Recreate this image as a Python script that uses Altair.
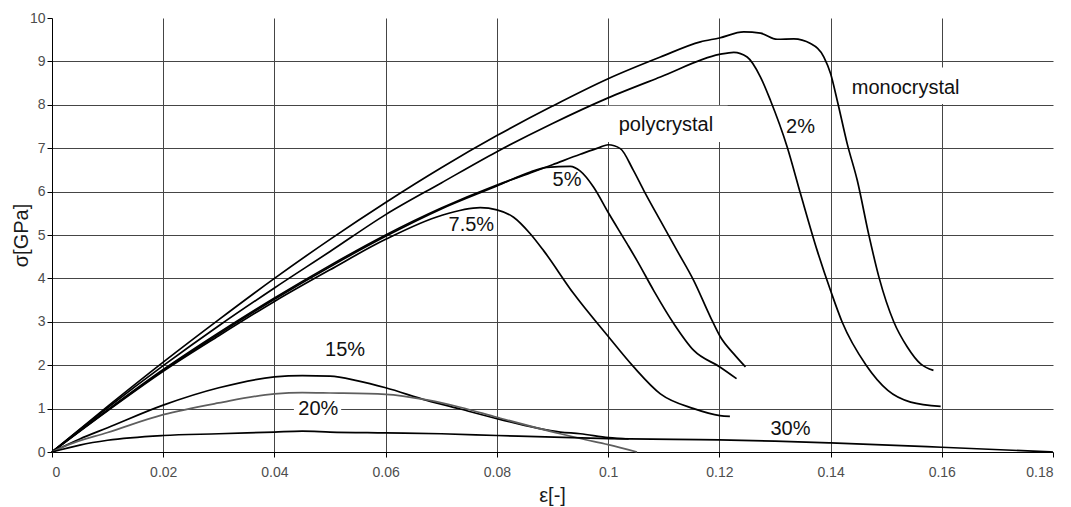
import altair as alt
import pandas as pd

# ---- data ----
mono_x = [0, 0.01, 0.02, 0.03, 0.04, 0.05, 0.06, 0.07, 0.08, 0.09, 0.1, 0.1094, 0.1166, 0.12, 0.1244, 0.1274,
          0.1304, 0.1334, 0.1364, 0.1388, 0.14, 0.1412, 0.143, 0.1448, 0.1469, 0.1487, 0.1514, 0.1538, 0.1562, 0.1585]
mono_y = [0, 1.05, 2.07, 3.05, 4.0, 4.9, 5.75, 6.55, 7.29, 7.97, 8.6, 9.1, 9.45, 9.54, 9.68, 9.65,
          9.51, 9.52, 9.41, 9.1, 8.72, 8.1, 7.1, 6.26, 4.99, 4.03, 2.99, 2.42, 2.03, 1.88]

p2_x = [0, 0.01, 0.02, 0.03, 0.04, 0.05, 0.06, 0.07, 0.08, 0.09, 0.1, 0.1094, 0.12, 0.1226, 0.125, 0.1274,
        0.1292, 0.1322, 0.1346, 0.1376, 0.14, 0.1421, 0.1464, 0.1503, 0.1544, 0.1598]
p2_y = [0, 1.02, 1.99, 2.91, 3.78, 4.62, 5.47, 6.2, 6.92, 7.57, 8.16, 8.64, 9.16, 9.21, 9.1, 8.64,
        8.1, 7.03, 5.95, 4.64, 3.72, 2.99, 2.0, 1.42, 1.15, 1.05]

poly_x = [0, 0.01, 0.02, 0.03, 0.04, 0.05, 0.06, 0.07, 0.08, 0.086, 0.09, 0.095, 0.0985, 0.1, 0.1022, 0.1045,
          0.1064, 0.1094, 0.1124, 0.1154, 0.1184, 0.1202, 0.1226, 0.1247]
poly_y = [0, 0.97, 1.9, 2.75, 3.55, 4.3, 5.0, 5.62, 6.15, 6.43, 6.62, 6.86, 7.02, 7.08, 6.99, 6.5,
          6.03, 5.33, 4.64, 3.95, 3.11, 2.65, 2.26, 1.96]

p5_x = [0, 0.01, 0.02, 0.03, 0.04, 0.05, 0.06, 0.07, 0.08, 0.086, 0.089, 0.0932, 0.095, 0.0974, 0.1001,
        0.1034, 0.1052, 0.1082, 0.1118, 0.1154, 0.1201, 0.1231]
p5_y = [0, 0.96, 1.88, 2.72, 3.52, 4.27, 4.97, 5.6, 6.13, 6.45, 6.56, 6.58, 6.47, 6.1, 5.5,
        4.8, 4.41, 3.72, 2.96, 2.34, 1.96, 1.69]

p75_x = [0, 0.01, 0.02, 0.03, 0.04, 0.05, 0.06, 0.07, 0.077, 0.08, 0.083, 0.086, 0.0884, 0.0938, 0.1001,
         0.1046, 0.1094, 0.1154, 0.1201, 0.1219]
p75_y = [0, 0.95, 1.86, 2.68, 3.47, 4.2, 4.9, 5.45, 5.63, 5.58, 5.41, 5.03, 4.64, 3.65, 2.65,
         1.96, 1.34, 1.0, 0.84, 0.82]

p15_x = [0, 0.005, 0.01, 0.02, 0.03, 0.04, 0.045, 0.05, 0.055, 0.06, 0.0674, 0.0734, 0.08, 0.0914, 0.095,
         0.1001, 0.1037]
p15_y = [0, 0.3, 0.56, 1.08, 1.48, 1.73, 1.76, 1.75, 1.64, 1.48, 1.19, 0.99, 0.77, 0.46, 0.42, 0.33, 0.3]

p20_x = [0, 0.003, 0.01, 0.02, 0.03, 0.04, 0.045, 0.05, 0.06, 0.0674, 0.0734, 0.08, 0.0914, 0.095, 0.1, 0.1052]
p20_y = [0, 0.17, 0.45, 0.86, 1.13, 1.34, 1.37, 1.36, 1.33, 1.2, 1.03, 0.8, 0.42, 0.31, 0.17, 0.0]

p30_x = [0, 0.005, 0.01, 0.02, 0.03, 0.04, 0.045, 0.05, 0.06, 0.07, 0.08, 0.1, 0.1118, 0.12, 0.13, 0.14, 0.16, 0.18]
p30_y = [0, 0.16, 0.27, 0.38, 0.42, 0.46, 0.48, 0.46, 0.44, 0.42, 0.38, 0.31, 0.29, 0.28, 0.25, 0.21, 0.11, 0.0]

series_names = ["monocrystal", "2%", "polycrystal", "5%", "7.5%", "15%", "20%", "30%"]
series_xs = [mono_x, p2_x, poly_x, p5_x, p75_x, p15_x, p20_x, p30_x]
series_ys = [mono_y, p2_y, poly_y, p5_y, p75_y, p15_y, p20_y, p30_y]
series_colors = ["#000000", "#000000", "#000000", "#000000", "#000000", "#000000", "#5e5e5e", "#000000"]

label_text = ["monocrystal", "polycrystal", "2%", "5%", "7.5%", "15%", "20%", "30%"]
label_x = [0.1535, 0.1104, 0.1346, 0.0926, 0.0754, 0.0527, 0.0479, 0.1328]
label_y = [8.39, 7.53, 7.5, 6.26, 5.24, 2.34, 0.98, 0.54]

# white boxes behind labels that interrupt the grid
box_x = [0.1415, 0.0995, 0.0435]
box_x2 = [0.1655, 0.1215, 0.0520]
box_y = [8.02, 7.14, 0.84]
box_y2 = [8.86, 7.98, 1.13]

x_ticks = [0, 0.02, 0.04, 0.06, 0.08, 0.1, 0.12, 0.14, 0.16, 0.18]
y_ticks = [0, 1, 2, 3, 4, 5, 6, 7, 8, 9, 10]

rows = []
for name, xs, ys in zip(series_names, series_xs, series_ys):
    for i, (xv, yv) in enumerate(zip(xs, ys)):
        rows.append({"series": name, "eps": xv, "sigma": yv, "idx": i})
df = pd.DataFrame(rows)
labels = pd.DataFrame({"text": label_text, "eps": label_x, "sigma": label_y})
boxes = pd.DataFrame({"x": box_x, "x2": box_x2, "y": box_y, "y2": box_y2})

FONT = "Liberation Sans"

xscale = alt.Scale(domain=[0, 0.18], nice=False, zero=False)
yscale = alt.Scale(domain=[0, 10], nice=False)

x_axis = alt.Axis(
    values=x_ticks, format="~g", title="ε[-]",
    grid=True, gridColor="#454545", gridWidth=1,
    gridOpacity={"condition": {"test": "datum.value > 0.179 || datum.value < 0.001", "value": 0}, "value": 1},
    domainColor="#000000", domainWidth=1, tickColor="#000000", tickSize=5,
    labelFont=FONT, labelFontSize=14, labelColor="#4d4d4d", labelPadding=8,
    titleFont=FONT, titleFontSize=20, titleFontWeight="normal", titleColor="#1a1a1a",
    titleX=500, titleY=43, titleBaseline="middle", titleAlign="center",
)
y_axis = alt.Axis(
    values=y_ticks, format="d", title="σ[GPa]",
    grid=True, gridColor="#454545", gridWidth=1,
    gridOpacity={"condition": {"test": "datum.value > 9.99 || datum.value < 0.01", "value": 0}, "value": 1},
    domainColor="#000000", domainWidth=1, tickColor="#000000", tickSize=5,
    labelFont=FONT, labelFontSize=14, labelColor="#4d4d4d", labelPadding=2,
    titleFont=FONT, titleFontSize=20, titleFontWeight="normal", titleColor="#1a1a1a",
    titleX=-31, titleY=217, titleAngle=270, titleBaseline="middle", titleAlign="center",
)

lines = alt.Chart(df).mark_line(strokeWidth=1.7, interpolate="monotone").encode(
    x=alt.X("eps:Q", scale=xscale, axis=x_axis),
    y=alt.Y("sigma:Q", scale=yscale, axis=y_axis),
    color=alt.Color("series:N", scale=alt.Scale(domain=series_names, range=series_colors), legend=None),
    detail="series:N",
    order="idx:Q",
)

rects = alt.Chart(boxes).mark_rect(color="white").encode(
    x=alt.X("x:Q", scale=xscale), x2="x2:Q",
    y=alt.Y("y:Q", scale=yscale), y2="y2:Q",
)

texts = alt.Chart(labels).mark_text(
    font=FONT, fontSize=20, color="#111111", align="center", baseline="middle"
).encode(
    x=alt.X("eps:Q", scale=xscale),
    y=alt.Y("sigma:Q", scale=yscale),
    text="text:N",
)

chart = alt.layer(rects, lines, texts).properties(
    width=1001, height=434,
    autosize=alt.AutoSizeParams(type="none"),
    padding={"left": 52, "top": 18, "right": 18, "bottom": 55},
    background="white",
).configure_view(stroke=None)

chart.save("out.html", embed_options={"renderer": "svg", "actions": False})
